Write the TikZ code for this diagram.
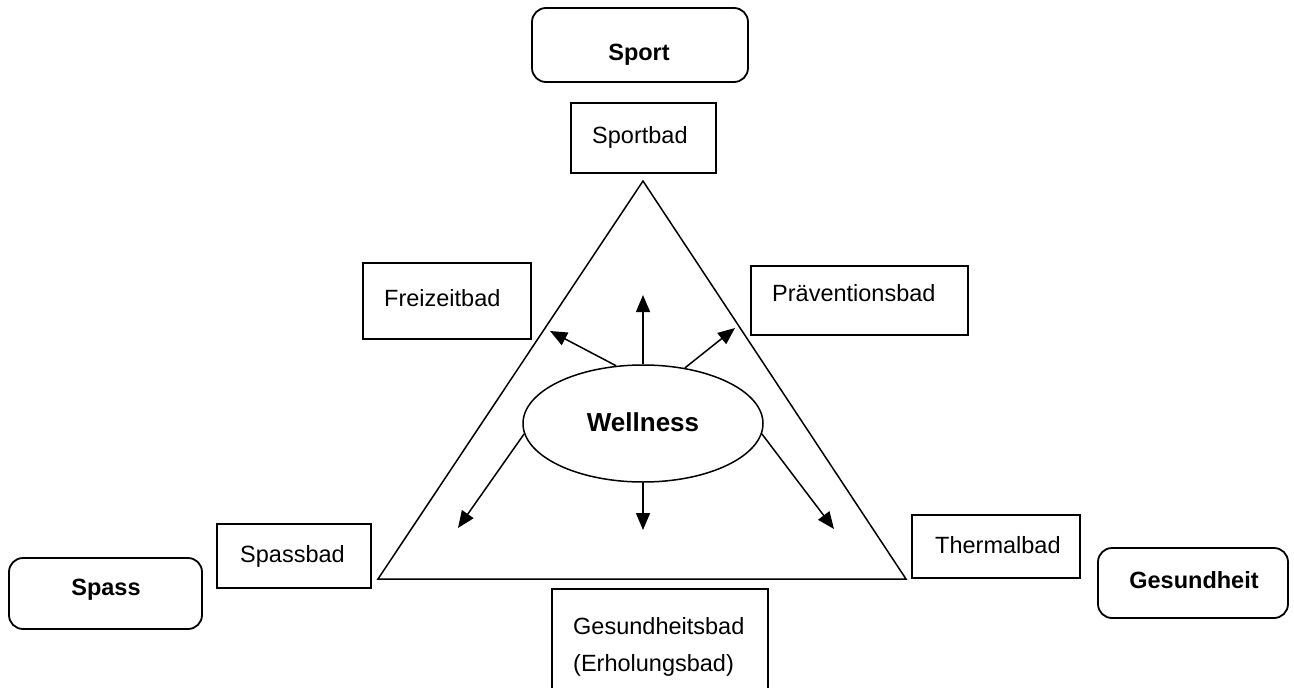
\documentclass[tikz,border=0pt]{standalone}
\usepackage{fontspec}
\setmainfont{Liberation Sans}
\usetikzlibrary{arrows.meta,shapes.geometric}
\begin{document}
\begin{tikzpicture}[x=1pt,y=-1pt,
  bx/.style={draw,line width=1.8pt,inner sep=0,rectangle},
  rbx/.style={bx,rounded corners=14pt},
  lbl/.style={inner sep=0,anchor=west,font=\fontsize{23.5}{28}\selectfont},
  blbl/.style={inner sep=0,font=\fontsize{23.5}{28}\selectfont\bfseries},
  arr/.style={line width=1.5pt,-{Triangle[length=17pt,width=14pt]}}]
\useasboundingbox (0,0) rectangle (1294,688);
% category boxes
\node[rbx,minimum width=216pt,minimum height=74pt] (sport) at (640,45) {};
\node[blbl] (sporttxt) at (639,55) {Sport};
\node[rbx,minimum width=193pt,minimum height=71pt] (spass) at (105.5,593.5) {};
\node[blbl] (spasstxt) at (106,590) {Spass};
\node[rbx,minimum width=190pt,minimum height=70pt] (ges) at (1193,583) {};
\node[blbl] (gestxt) at (1194,580) {Gesundheit};
% bath boxes
\node[bx,minimum width=145pt,minimum height=70pt] (sportbad) at (643.5,138) {};
\node[lbl] (sportbadtxt) at (592,137) {Sportbad};
\node[bx,minimum width=168pt,minimum height=76pt] (frei) at (447,301) {};
\node[lbl] (freitxt) at (384,298) {Freizeitbad};
\node[bx,minimum width=217pt,minimum height=69pt] (praev) at (859.5,300.5) {};
\node[lbl] (praevtxt) at (772,293) {Präventionsbad};
\node[bx,minimum width=154pt,minimum height=64pt] (spassbad) at (294,556) {};
\node[lbl] (spassbadtxt) at (240,556) {Spassbad};
\node[bx,minimum width=168pt,minimum height=63pt] (therm) at (996,546.5) {};
\node[lbl] (thermtxt) at (935,545) {Thermalbad};
\node[bx,minimum width=216pt,minimum height=103pt] (gbad) at (660,640.5) {};
\node[lbl] (gbadtxt1) at (573,626) {Gesundheitsbad};
\node[lbl] (gbadtxt2) at (573,665) {(Erholungsbad)};
% triangle
\coordinate (ta) at (643,181);
\coordinate (tl) at (378,579);
\coordinate (tr) at (906,579);
\draw[line width=1.5pt,line join=miter] (ta) -- (tl) -- (tr) -- cycle;
% wellness
\node[draw,ellipse,line width=1.5pt,inner sep=0,minimum width=240pt,minimum height=117pt] (w) at (643,423.5) {};
\node[inner sep=0,font=\fontsize{26}{30}\selectfont\bfseries] (wtxt) at (643,422) {Wellness};
% arrow tips
\coordinate (pU) at (643,295);
\coordinate (pFL) at (550,331);
\coordinate (pFR) at (735,328);
\coordinate (pBL) at (458,528);
\coordinate (pD) at (643,530);
\coordinate (pBR) at (834,529);
\draw[arr] (w.north) -- (pU);
\draw[arr] (w.115) -- (pFL);
\draw[arr] (w.53) -- (pFR);
\draw[arr] (w.185) -- (pBL);
\draw[arr] (w.south) -- (pD);
\draw[arr] (w.-5) -- (pBR);
\end{tikzpicture}
\end{document}
